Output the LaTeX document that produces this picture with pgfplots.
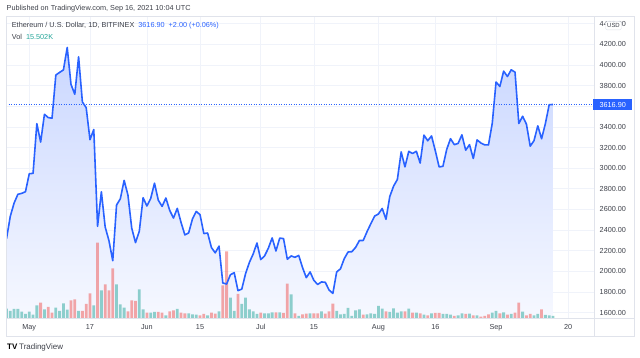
\documentclass[border=0pt]{standalone}
\usepackage{pgfplots}
\pgfplotsset{compat=1.18}
\usepackage{pgfplotstable}
\usepackage{fontspec}
\setmainfont{Liberation Sans}
\definecolor{tvblue}{RGB}{41,98,255}
\definecolor{gridc}{RGB}{240,243,250}
\definecolor{framec}{RGB}{224,227,235}
\definecolor{axtext}{RGB}{60,63,72}
\definecolor{volg}{RGB}{38,166,154}
\definecolor{volr}{RGB}{239,83,80}
\definecolor{areatop}{RGB}{202,215,255}
\definecolor{areabot}{RGB}{246,248,255}
\newcommand{\tickfont}{\fontsize{7.3}{9}\selectfont}

\pgfplotstableread{
i p
0 2316
1 2534
2 2662
3 2747
4 2756
5 2772
6 2946
7 2950
8 3431
9 3253
10 3522
11 3490
12 3484
13 3902
14 3928
15 3952
16 4169
17 3811
18 3716
19 4079
20 3641
21 3586
22 3276
23 3375
24 2437
25 2772
26 2431
27 2298
28 2104
29 2643
30 2704
31 2882
32 2740
33 2419
34 2279
35 2390
36 2714
37 2634
38 2707
39 2855
40 2690
41 2630
42 2711
43 2592
44 2517
45 2611
46 2474
47 2354
48 2373
49 2508
50 2581
51 2550
52 2367
53 2372
54 2231
55 2180
56 2245
57 1888
58 1878
59 1968
60 1988
61 1814
62 1829
63 1979
64 2087
65 2169
66 2275
67 2115
68 2150
69 2225
70 2325
71 2198
72 2323
73 2318
74 2118
75 2150
76 2137
77 2155
78 2038
79 1940
80 1995
81 1913
82 1874
83 1898
84 1895
85 1820
86 1787
87 1995
88 2025
89 2124
90 2188
91 2191
92 2233
93 2300
94 2300
95 2385
96 2462
97 2536
98 2556
99 2610
100 2505
101 2726
102 2826
103 2891
104 3158
105 3013
106 3163
107 3142
108 3164
109 3050
110 3320
111 3266
112 3312
113 3168
114 3012
115 3018
116 3182
117 3286
118 3228
119 3240
120 3323
121 3174
122 3228
123 3094
124 3274
125 3244
126 3226
127 3225
128 3435
129 3835
130 3791
131 3940
132 3888
133 3953
134 3930
135 3433
136 3503
137 3427
138 3213
139 3267
140 3410
141 3285
142 3432
143 3615
144 3617
}\pricetable

\pgfplotstableread{
i v
0 28
1 21
2 27
3 27
4 19
5 12
6 19
7 10
8 38
10 26
13 31
14 21
15 44
16 25
19 21
23 38
25 83
29 101
30 41
31 31
35 86
36 26
38 16
39 18
42 8
45 27
48 14
49 11
50 10
53 8
56 20
59 61
60 21
62 42
63 61
64 26
65 20
66 12
68 14
69 14
70 17
72 17
75 71
77 6
80 14
83 20
87 21
88 11
89 12
90 30
91 6
92 23
93 26
95 11
96 14
97 12
98 36
99 28
101 18
102 29
103 16
104 20
106 28
108 16
110 10
112 14
115 12
116 12
117 10
119 8
120 14
122 13
124 8
128 16
129 21
131 17
133 12
136 19
139 8
140 12
142 9
143 8
144 6
}\volup

\pgfplotstableread{
i v
9 46
11 33
12 16
17 53
18 56
20 21
21 42
22 74
24 226
26 101
27 83
28 149
32 20
33 53
34 51
37 16
40 18
41 16
43 20
44 23
46 16
47 14
51 8
52 12
54 16
55 13
57 98
58 200
61 72
67 16
71 17
73 15
74 103
76 14
78 11
79 13
81 14
82 14
84 13
85 20
86 43
94 10
100 20
105 20
107 16
109 14
111 8
113 15
114 15
118 6
121 12
123 8
125 4
126 6
127 11
130 14
132 10
134 16
135 46
137 8
138 12
141 26
}\voldown

\begin{document}
\begin{tikzpicture}
\useasboundingbox (0,0) rectangle (640bp,358bp);
\pgfplotsset{tvbase/.style={at={(6bp,40bp)}, anchor=south west, scale only axis,
  width=588bp, height=302bp, xmin=-0.13, xmax=154.81}}
% price axis: grid, labels, area
\begin{axis}[tvbase, ymin=1549, ymax=4474,
  axis line style={draw=none}, tick style={draw=none},
  xtick={6,22,37,51,67,81,98,113,129,148},
  xticklabels={May,17,Jun,15,Jul,15,Aug,16,Sep,20},
  ytick={1600,1800,2000,2200,2400,2600,2800,3000,3200,3400,3800,4000,4200,4400},
  extra y ticks={3600}, extra y tick labels={},
  extra tick style={grid=major},
  yticklabel pos=right,
  grid=major, major grid style={draw=gridc, line width=0.7bp},
  ticklabel style={font=\tickfont, text=axtext},
  yticklabel style={anchor=west, xshift=2.2bp,
    /pgf/number format/fixed, /pgf/number format/fixed zerofill,
    /pgf/number format/precision=2, /pgf/number format/1000 sep={}},
  xticklabel style={yshift=-2.5bp},
  /pgf/number format/assume math mode=true]
\addplot[draw=none, top color=areatop, bottom color=areabot] table[x=i,y=p] {\pricetable} \closedcycle;
\end{axis}
% volume axis
\begin{axis}[tvbase, ymin=0, ymax=906, hide axis]
\addplot[ybar, bar width=2.8bp, draw=none, fill=volg, fill opacity=0.5] table[x=i,y=v] {\volup};
\addplot[ybar, bar width=2.8bp, draw=none, fill=volr, fill opacity=0.5] table[x=i,y=v] {\voldown};
\end{axis}
% price line
\begin{axis}[tvbase, ymin=1549, ymax=4474, hide axis]
\addplot[tvblue, line width=0.7bp, dash pattern=on 1bp off 1.5bp] coordinates {(-0.13,3616.9) (154.81,3616.9)};
\addplot[tvblue, line width=1.6bp, line join=round] table[x=i,y=p] {\pricetable};
\end{axis}
% frame
\draw[framec, line width=0.8bp] (6bp,22bp) rectangle (634bp,342bp);
\draw[framec, line width=0.8bp] (594bp,22bp) -- (594bp,342bp);
\draw[framec, line width=0.8bp] (6bp,40bp) -- (634bp,40bp);
% price label
\node[fill=tvblue, text=white, font=\tickfont, inner sep=0pt, minimum width=39bp, minimum height=10.7bp, anchor=west] at (593bp,253.3bp) {3616.90};
% USD box (covers the middle of the 4400.00 label, as in the original)
\node[fill=white, draw=framec, rounded corners=1.5bp, font=\fontsize{6}{7}\selectfont, text=axtext, inner sep=0pt, minimum width=16bp, minimum height=8.5bp] at (613.5bp,332.4bp) {USD};
% header texts
\node[anchor=west, inner sep=0pt, font=\fontsize{7.3}{9}\selectfont, text=axtext] at (6.5bp,349.5bp) {Published on TradingView.com, Sep 16, 2021 10:04 UTC};
\node[anchor=west, inner sep=0pt, font=\fontsize{7.3}{9}\selectfont, text=axtext] at (11.7bp,332.3bp) {Ethereum / U.S. Dollar, 1D, BITFINEX\ \ \textcolor{tvblue}{3616.90\ \ +2.00 (+0.06\%)}};
\node[anchor=west, inner sep=0pt, font=\fontsize{7.3}{9}\selectfont, text=axtext] at (11.7bp,321bp) {Vol\ \ \textcolor{volg}{15.502K}};
% footer
\node[anchor=west, inner sep=0pt, font=\fontsize{8}{9}\selectfont\bfseries, text=black] at (7bp,11bp) {TV};
\node[anchor=west, inner sep=0pt, font=\fontsize{8}{9}\selectfont, text=axtext] at (19bp,11bp) {TradingView};
\end{tikzpicture}
\end{document}
